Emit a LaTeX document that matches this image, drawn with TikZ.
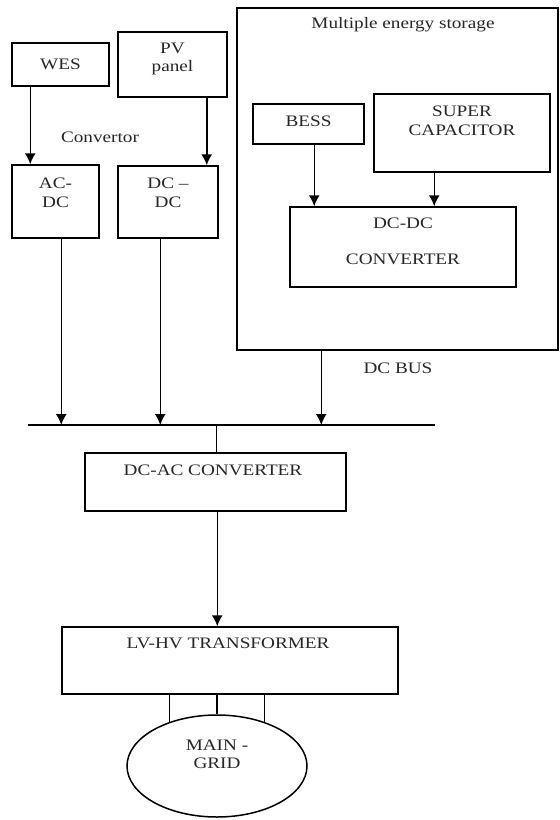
\documentclass[tikz,border=0pt]{standalone}
\usepackage{fontspec}
\setmainfont{Liberation Serif}[FakeStretch=1.2]
\usetikzlibrary{arrows.meta,shapes.geometric}
\begin{document}
\begin{tikzpicture}[x=1pt,y=-1pt,line width=1.5pt,>={Latex[length=11pt,width=11pt]},
  font=\fontsize{16}{18.5}\selectfont,
  box/.style={draw,rectangle,inner sep=0pt},
  txt/.style={text=black!85,align=center,inner sep=0pt}]
  \useasboundingbox (0,0) rectangle (560,820);
  % sources and their converters
  \node[box,minimum width=97,minimum height=43] (wes) at (60.5,64.5) {};
  \node[txt] (weslab) at (wes) {WES};
  \node[box,minimum width=109,minimum height=65] (pv) at (172.5,64.5) {};
  \node[txt] (pvlab) at (172.5,59) {PV\\panel};
  \node[txt] (convlab) at (100,137) {Convertor};
  \node[box,minimum width=87,minimum height=73] (acdc) at (55.5,201.5) {};
  \node[txt] (acdclab) at (55.5,193) {AC-\\DC};
  \node[box,minimum width=100,minimum height=72] (dcdc) at (168,202) {};
  \node[txt] (dcdclab) at (168,193) {DC --\\DC};
  % storage part
  \node[box,minimum width=321,minimum height=342] (ess) at (397.5,179) {};
  \node[txt] (esslab) at (403,25) {Multiple energy storage};
  \node[box,minimum width=111,minimum height=40] (bess) at (308.5,124) {};
  \node[txt] (besslab) at (308.5,121) {BESS};
  \node[box,minimum width=176,minimum height=78] (sc) at (462,133) {};
  \node[txt] (sclab) at (462,121) {SUPER\\CAPACITOR};
  \node[box,minimum width=226,minimum height=80] (conv) at (403,247) {};
  \node[txt] (convlab2) at (403,241.5) {DC-DC\\[18pt]CONVERTER};
  % bus
  \coordinate (busl) at (28,425);
  \coordinate (busr) at (435,425);
  \draw (busl) -- (busr);
  \node[txt] (buslab) at (398,368) {DC BUS};
  % output chain
  \node[box,minimum width=261,minimum height=58] (dcac) at (215.5,482) {};
  \node[txt] (dcaclab) at (213,470) {DC-AC CONVERTER};
  \node[box,minimum width=336,minimum height=67] (lvhv) at (230,660.5) {};
  \node[txt] (lvhvlab) at (228,643) {LV-HV TRANSFORMER};
  \node[draw,ellipse,minimum width=180,minimum height=102,inner sep=0pt] (grid) at (217,766) {};
  \node[txt] (gridlab) at (217,754.5) {MAIN -\\GRID};
  % connectors
  \draw[->] ([xshift=19]wes.south west) -- ([xshift=19]acdc.north west);
  \draw[->] ([xshift=-21]pv.south east) -- ([xshift=-12]dcdc.north east);
  \draw[->] ([xshift=62]bess.south west) -- ([xshift=25]conv.north west);
  \draw[->] ([xshift=61]sc.south west) -- ([xshift=145]conv.north west);
  \coordinate (a1) at ([xshift=50]acdc.south west);
  \coordinate (a2) at ([xshift=43]dcdc.south west);
  \coordinate (a3) at ([xshift=85]ess.south west);
  \draw[->] (a1) -- (a1 |- busl);
  \draw[->] (a2) -- (a2 |- busl);
  \draw[->] (a3) -- (a3 |- busl);
  \coordinate (s1) at ([xshift=132]dcac.north west);
  \draw (s1 |- busl) -- (s1);
  \draw[->] ([xshift=133]dcac.south west) -- ([xshift=156]lvhv.north west);
  \draw (grid.137) -- (grid.137 |- lvhv.south);
  \draw (grid.north) -- (grid.north |- lvhv.south);
  \draw (grid.43) -- (grid.43 |- lvhv.south);
\end{tikzpicture}
\end{document}
